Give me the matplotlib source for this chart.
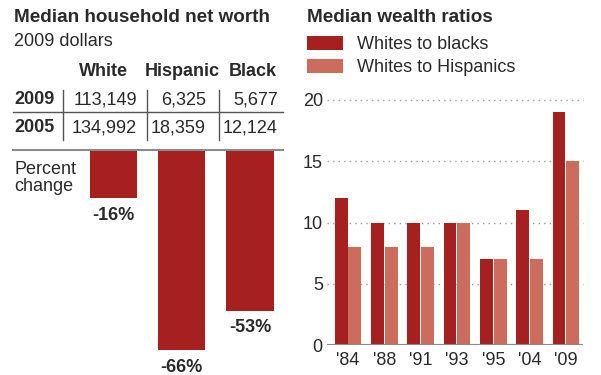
import matplotlib
matplotlib.use("Agg")
import matplotlib.pyplot as plt
from matplotlib.lines import Line2D

plt.rcParams['font.family'] = ['Liberation Sans', 'DejaVu Sans']

# data
groups = ['White', 'Hispanic', 'Black']
worth_2009 = ['113,149', '6,325', '5,677']
worth_2005 = ['134,992', '18,359', '12,124']
pct_change = [-16, -66, -53]

years = ["'84", "'88", "'91", "'93", "'95", "'04", "'09"]
whites_to_blacks = [12, 10, 10, 10, 7, 11, 19]
whites_to_hispanics = [8, 8, 8, 10, 7, 7, 15]

DARK = '#a6201f'
LIGHT = '#cc6c5c'
TXT = '#2a2a2a'
FS = 13

W, H = 601, 375
fig = plt.figure(figsize=(W / 100, H / 100), dpi=100)

def fx(px):
    return px / W

def fy(py):
    return 1 - py / H

def hline(x0, x1, y, color='#555555', lw=1):
    fig.add_artist(Line2D([fx(x0), fx(x1)], [fy(y), fy(y)], color=color, lw=lw))

def vline(x, y0, y1, color='#555555', lw=1):
    fig.add_artist(Line2D([fx(x), fx(x)], [fy(y0), fy(y1)], color=color, lw=lw))

# left panel: table
fig.text(fx(14), fy(17), 'Median household net worth', fontsize=13.6, weight='bold',
         color=TXT, va='center')
fig.text(fx(14), fy(42), '2009 dollars', fontsize=FS, color=TXT, va='center')

head_x = [103, 182, 253]
for g, x in zip(groups, head_x):
    fig.text(fx(x), fy(71), g, fontsize=FS, weight='bold', color=TXT, ha='center', va='center')

col_right = [137, 206, 278]
rows = [('2009', worth_2009, 100), ('2005', worth_2005, 128)]
for lab, vals, y in rows:
    fig.text(fx(14), fy(y), lab, fontsize=FS, weight='bold', color=TXT, va='center')
    for v, x in zip(vals, col_right):
        fig.text(fx(x), fy(y), v, fontsize=FS, color=TXT, ha='right', va='center')

for x in [63, 147, 219]:
    vline(x, 90, 140)
hline(13, 283, 112)
hline(13, 283, 150, color='#8a8a8a', lw=1.5)

fig.text(fx(14), fy(170), 'Percent', fontsize=FS, color=TXT, va='center')
fig.text(fx(14), fy(187), 'change', fontsize=FS, color=TXT, va='center')

# left panel: percent change bars
ax1 = fig.add_axes([fx(79.4), fy(350), fx(204.75), 200 / H])
ax1.bar(range(len(pct_change)), pct_change, width=0.69, color=DARK)
ax1.set_xlim(-0.5, 2.5)
ax1.set_ylim(-66, 0)
ax1.axis('off')
for i, v in enumerate(pct_change):
    ax1.annotate('%d%%' % v, (i, v), xytext=(0, -12.5), textcoords='offset points',
                 ha='center', va='center', fontsize=FS, weight='bold', color=TXT,
                 annotation_clip=False)

# right panel
fig.text(fx(307), fy(17), 'Median wealth ratios', fontsize=13.6, weight='bold',
         color=TXT, va='center')

ax2 = fig.add_axes([fx(327), fy(345), 256 / W, 245 / H])
xs = range(len(years))
b1 = ax2.bar([x - 0.19 for x in xs], whites_to_blacks, width=0.35, color=DARK,
             label='Whites to blacks', zorder=2)
b2 = ax2.bar([x + 0.19 for x in xs], whites_to_hispanics, width=0.36, color=LIGHT,
             label='Whites to Hispanics', zorder=2)
ax2.set_xlim(-0.58, 6.47)
ax2.set_ylim(0, 20)
for y in [5, 10, 15, 20]:
    ax2.axhline(y, color='#9a9a9a', ls=(0, (1, 3)), lw=1, zorder=0, clip_on=False)
ax2.axhline(0, color='#8a8a8a', lw=1.5, zorder=3)
for s in ax2.spines.values():
    s.set_visible(False)
ax2.set_yticks([0, 5, 10, 15, 20])
ax2.set_xticks(list(xs))
ax2.set_xticklabels(years)
ax2.tick_params(axis='y', length=0, pad=3, labelsize=FS, labelcolor=TXT)
ax2.tick_params(axis='x', length=0, pad=5, labelsize=FS, labelcolor=TXT)

fig.legend(handles=[b1, b2], loc='upper left', bbox_to_anchor=(fx(307), fy(36)),
           frameon=False, fontsize=FS, handlelength=2.0, handleheight=0.85,
           handletextpad=0.75, labelspacing=0.3, borderpad=0, borderaxespad=0,
           labelcolor=TXT)

fig.savefig('out.png', dpi=100)
